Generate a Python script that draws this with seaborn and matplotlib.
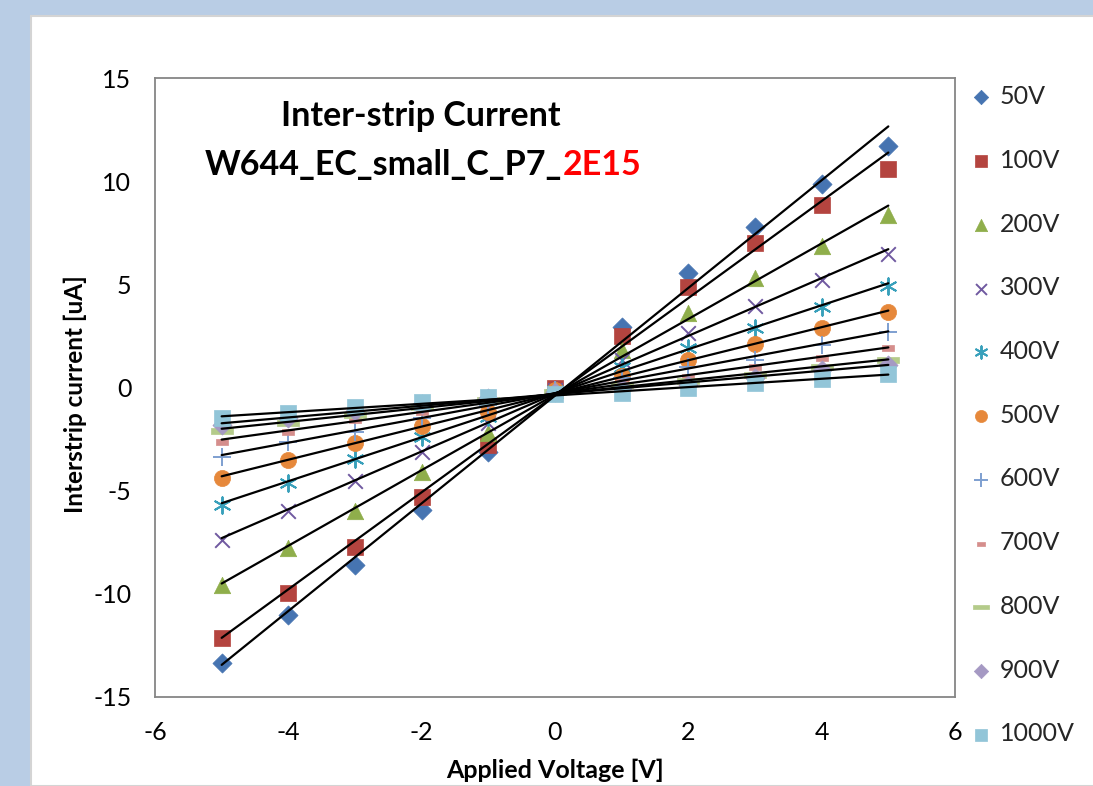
import numpy as np
import pandas as pd
import matplotlib
matplotlib.use("Agg")
import matplotlib.pyplot as plt
import seaborn as sns
from matplotlib.patches import Rectangle

# ---------------- data ----------------
voltage = [-5, -4, -3, -2, -1, 0, 1, 2, 3, 4, 5]
series_labels = ["50V", "100V", "200V", "300V", "400V", "500V",
                 "600V", "700V", "800V", "900V", "1000V"]

i_50V = [-13.37, -11.03, -8.60, -5.94, -3.11, -0.10, 2.93, 5.53, 7.79, 9.85, 11.71]
i_100V = [-12.13, -9.98, -7.71, -5.32, -2.79, 0.00, 2.51, 4.89, 6.99, 8.85, 10.59]
i_200V = [-9.57, -7.80, -5.97, -4.08, -2.19, -0.10, 1.82, 3.60, 5.29, 6.87, 8.36]
i_300V = [-7.39, -5.99, -4.53, -3.11, -1.74, -0.10, 1.33, 2.63, 3.95, 5.21, 6.46]
i_400V = [-5.70, -4.61, -3.48, -2.38, -1.41, -0.10, 1.01, 1.90, 2.87, 3.92, 4.92]
i_500V = [-4.40, -3.51, -2.67, -1.87, -1.17, -0.10, 0.57, 1.33, 2.11, 2.87, 3.67]
i_600V = [-3.39, -2.63, -2.14, -1.49, -0.85, -0.10, 0.44, 1.01, 1.33, 2.06, 2.71]
i_700V = [-2.63, -2.14, -1.58, -1.17, -0.69, -0.15, 0.28, 0.52, 1.01, 1.45, 1.90]
i_800V = [-2.11, -1.70, -1.33, -0.93, -0.61, -0.20, 0.12, 0.33, 0.61, 0.98, 1.33]
i_900V = [-1.82, -1.50, -1.15, -0.82, -0.52, -0.20, 0.00, 0.12, 0.44, 0.85, 1.09]
i_1000V = [-1.49, -1.25, -0.96, -0.72, -0.44, -0.30, -0.28, -0.04, 0.20, 0.40, 0.64]

currents = [i_50V, i_100V, i_200V, i_300V, i_400V, i_500V,
            i_600V, i_700V, i_800V, i_900V, i_1000V]

x_ticks = [-6, -4, -2, 0, 2, 4, 6]
y_ticks = [-15, -10, -5, 0, 5, 10, 15]

# ---------------- styles ----------------
colors = ["#4674B1", "#B4443F", "#8FAE4B", "#7059A0", "#38A0BB", "#E6883B",
          "#7E9FD0", "#D58E8C", "#B4CB8A", "#A599C3", "#92C5D8"]
dash_short = [(-1, -0.45), (1, -0.45), (1, 0.45), (-1, 0.45), (-1, -0.45)]
dash_long = [(-1, -0.25), (1, -0.25), (1, 0.25), (-1, 0.25), (-1, -0.25)]
markers = ["D", "s", "^", "x", (6, 2, 0), "o", "+", dash_short, dash_long, "D", "s"]
sizes = [95, 120, 140, 110, 140, 135, 170, 70, 230, 95, 120]
line_markers = {3, 4, 6}

df = pd.DataFrame({
    "voltage": np.tile(voltage, len(series_labels)),
    "current": np.concatenate(currents),
    "series": np.repeat(series_labels, len(voltage)),
})

sns.set_theme(style="white")
plt.rcParams["font.family"] = ["Lato", "DejaVu Sans"]

fig = plt.figure(figsize=(10.93, 7.86), dpi=100)
fig.patch.set_facecolor("#B9CDE5")
fig.add_artist(Rectangle((31 / 1093, 0), 1.0, (786 - 16) / 786,
                         transform=fig.transFigure, facecolor="white",
                         edgecolor="#D4D4D4", linewidth=1.5, zorder=0))

ax = fig.add_axes([155 / 1093, (786 - 697) / 786, 800 / 1093, 619 / 786])
ax.set_facecolor("white")

for k, lab in enumerate(series_labels):
    sub = df[df["series"] == lab]
    if k in line_markers:
        sns.scatterplot(data=sub, x="voltage", y="current", ax=ax,
                        marker=markers[k], s=sizes[k], color=colors[k],
                        linewidth=1.4, label=lab, zorder=3)
    else:
        sns.scatterplot(data=sub, x="voltage", y="current", ax=ax,
                        marker=markers[k], s=sizes[k], color=colors[k],
                        edgecolor=colors[k], linewidth=0.5, label=lab, zorder=3)

for k, lab in enumerate(series_labels):
    sub = df[df["series"] == lab]
    sns.regplot(data=sub, x="voltage", y="current", ax=ax, scatter=False,
                ci=None, truncate=True, color="black",
                line_kws=dict(linewidth=1.6, zorder=4))

ax.set_xlim(-6, 6)
ax.set_ylim(-15, 15)
ax.set_xticks(x_ticks)
ax.set_yticks(y_ticks)
ax.set_xticklabels([str(t) for t in x_ticks])
ax.set_yticklabels([str(t) for t in y_ticks])
ax.tick_params(axis="both", direction="in", length=6, width=1.2,
               color="#868686", labelsize=18, labelcolor="black")
ax.tick_params(axis="x", pad=17)
ax.tick_params(axis="y", pad=17)
for sp in ax.spines.values():
    sp.set_visible(True)
    sp.set_color("#868686")
    sp.set_linewidth(1.3)

ax.set_xlabel("Applied Voltage [V]", fontsize=18, fontweight="bold", color="black")
ax.set_ylabel("Interstrip current [uA]", fontsize=17.5, fontweight="bold", color="black")
ax.xaxis.set_label_coords(0.5, -0.1)
ax.yaxis.set_label_coords(-0.085, 0.49)

# title (two lines, second line partly red)
fig.text(421 / 1093, 1 - 126.5 / 786, "Inter-strip Current", fontsize=24.5,
         fontweight="bold", ha="center", va="baseline", color="black")
t_black = fig.text(0, 1 - 175 / 786, "W644_EC_small_C_P7_", fontsize=24.5,
                   fontweight="bold", ha="left", va="baseline", color="black")
t_red = fig.text(0, 1 - 175 / 786, "2E15", fontsize=24.5,
                 fontweight="bold", ha="left", va="baseline", color="#FF0000")
renderer = fig.canvas.get_renderer()
wb = t_black.get_window_extent(renderer).width
wr = t_red.get_window_extent(renderer).width
start = 423 - (wb + wr) / 2
t_black.set_x(start / 1093)
t_red.set_x((start + wb) / 1093)

# legend
handles, labels = ax.get_legend_handles_labels()
if ax.legend_:
    ax.legend_.remove()
fig.legend(handles[:len(series_labels)], labels[:len(series_labels)],
           loc="upper left", bbox_to_anchor=(972 / 1093, 1 - 85 / 786),
           frameon=False, fontsize=18, markerscale=0.75,
           labelspacing=1.63, handlelength=0.7, handletextpad=0.4,
           borderaxespad=0, borderpad=0)

fig.savefig("out.png", dpi=100, facecolor=fig.get_facecolor())
